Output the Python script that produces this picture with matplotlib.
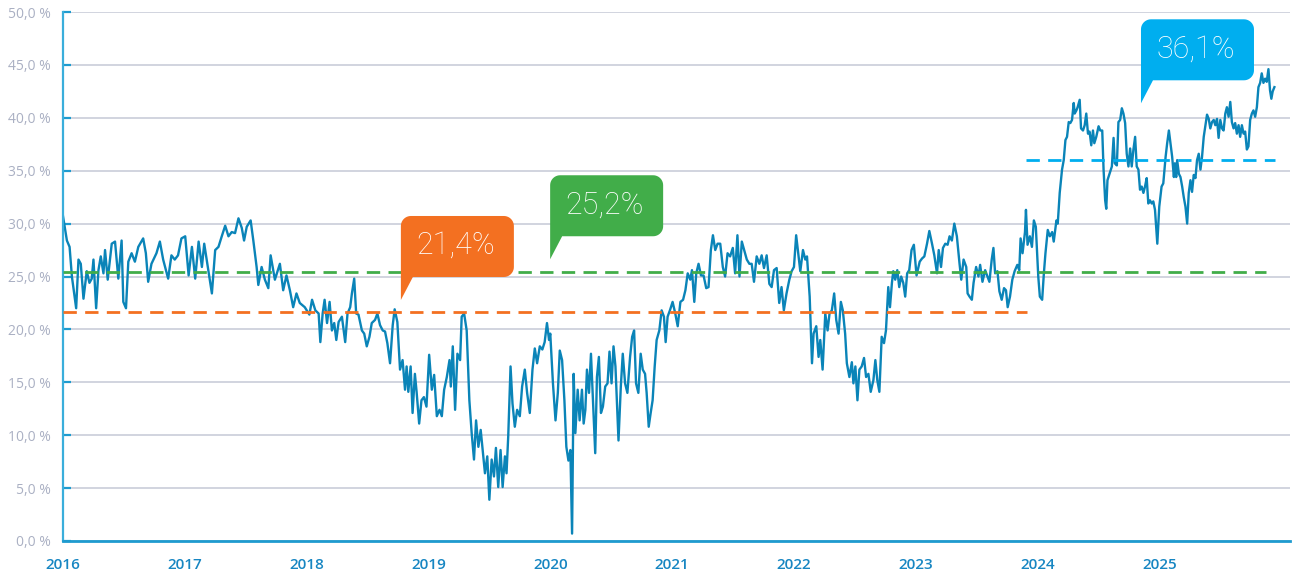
import matplotlib
matplotlib.use("Agg")
import matplotlib.pyplot as plt
from matplotlib.patches import Polygon
from matplotlib.transforms import IdentityTransform
import numpy as np

# ---------------- data ----------------
years = [
    2016.000, 2016.032, 2016.054, 2016.073, 2016.108, 2016.127, 2016.146, 2016.168, 2016.195, 2016.217,
    2016.236, 2016.250, 2016.272, 2016.291, 2016.310, 2016.332, 2016.345, 2016.367, 2016.400, 2016.427,
    2016.454, 2016.481, 2016.495, 2016.517, 2016.536, 2016.563, 2016.590, 2016.618, 2016.658, 2016.680,
    2016.699, 2016.726, 2016.767, 2016.795, 2016.822, 2016.863, 2016.890, 2016.917, 2016.944, 2016.972,
    2017.003, 2017.031, 2017.058, 2017.085, 2017.113, 2017.140, 2017.159, 2017.194, 2017.222, 2017.249,
    2017.276, 2017.303, 2017.331, 2017.358, 2017.385, 2017.412, 2017.440, 2017.467, 2017.486, 2017.508,
    2017.540, 2017.562, 2017.589, 2017.603, 2017.630, 2017.657, 2017.685, 2017.704, 2017.739, 2017.780,
    2017.807, 2017.834, 2017.862, 2017.889, 2017.916, 2017.943, 2017.984, 2018.022,
    2018.044, 2018.071, 2018.098, 2018.112, 2018.131, 2018.147, 2018.167, 2018.188, 2018.207, 2018.226,
    2018.243, 2018.262, 2018.289, 2018.316, 2018.335, 2018.357, 2018.371, 2018.390, 2018.406, 2018.425,
    2018.453, 2018.472, 2018.493, 2018.515, 2018.534, 2018.561, 2018.580, 2018.602, 2018.624, 2018.643,
    2018.662, 2018.684, 2018.706, 2018.722, 2018.744, 2018.766, 2018.787, 2018.807, 2018.820, 2018.834,
    2018.853, 2018.869, 2018.888, 2018.902, 2018.923, 2018.942, 2018.962, 2018.983, 2019.005, 2019.027,
    2019.046, 2019.068, 2019.090, 2019.109, 2019.128, 2019.150, 2019.172, 2019.183, 2019.199, 2019.218,
    2019.237, 2019.259, 2019.272, 2019.292, 2019.313, 2019.335, 2019.354, 2019.373, 2019.390, 2019.409,
    2019.428, 2019.444, 2019.463, 2019.482, 2019.499, 2019.518, 2019.537, 2019.553, 2019.572, 2019.591,
    2019.608, 2019.627, 2019.640, 2019.654, 2019.673, 2019.689, 2019.708, 2019.727, 2019.749, 2019.768,
    2019.790, 2019.809, 2019.831, 2019.853, 2019.872, 2019.891, 2019.913, 2019.934, 2019.953, 2019.972,
    2019.989,
    2019.999, 2020.021, 2020.042, 2020.061, 2020.077, 2020.096, 2020.115, 2020.131, 2020.148, 2020.164,
    2020.178, 2020.191, 2020.205, 2020.224, 2020.240, 2020.259, 2020.273, 2020.287, 2020.300, 2020.317,
    2020.333, 2020.349, 2020.368, 2020.382, 2020.398, 2020.415, 2020.431, 2020.450, 2020.469, 2020.485,
    2020.502, 2020.518, 2020.534, 2020.559, 2020.578, 2020.594, 2020.613, 2020.632, 2020.654, 2020.671,
    2020.687, 2020.703, 2020.722, 2020.741, 2020.758, 2020.777, 2020.790, 2020.807, 2020.823, 2020.839,
    2020.856, 2020.872, 2020.894, 2020.913, 2020.932, 2020.946, 2020.962, 2020.981, 2021.003, 2021.025,
    2021.045, 2021.067, 2021.089, 2021.108, 2021.127, 2021.148, 2021.162, 2021.181, 2021.197, 2021.216,
    2021.236, 2021.257, 2021.279, 2021.298, 2021.317, 2021.334, 2021.353, 2021.372, 2021.394, 2021.415,
    2021.434, 2021.454, 2021.475, 2021.497, 2021.516, 2021.535, 2021.552, 2021.571, 2021.590, 2021.612,
    2021.633, 2021.652, 2021.671, 2021.693, 2021.715, 2021.734, 2021.753, 2021.775, 2021.797, 2021.816,
    2021.835, 2021.857, 2021.878, 2021.897, 2021.916, 2021.938, 2021.961, 2021.980, 2021.999, 2022.017,
    2022.051, 2022.073, 2022.092, 2022.106, 2022.128, 2022.147, 2022.160, 2022.182, 2022.201, 2022.215,
    2022.234, 2022.256, 2022.275, 2022.291, 2022.310, 2022.329, 2022.346, 2022.365, 2022.384, 2022.400,
    2022.419, 2022.433, 2022.454, 2022.474, 2022.487, 2022.503, 2022.520, 2022.536, 2022.555, 2022.574,
    2022.591, 2022.610, 2022.629, 2022.651, 2022.667, 2022.683, 2022.700, 2022.719, 2022.738, 2022.754,
    2022.773, 2022.787, 2022.803, 2022.814, 2022.830, 2022.847, 2022.863, 2022.879, 2022.896, 2022.912,
    2022.928, 2022.945, 2022.964, 2022.983, 2023.005, 2023.031, 2023.050, 2023.069, 2023.091, 2023.110,
    2023.132, 2023.151, 2023.173, 2023.187, 2023.206, 2023.222, 2023.241, 2023.260, 2023.276, 2023.295,
    2023.315, 2023.336, 2023.358, 2023.372, 2023.391, 2023.413, 2023.424, 2023.440, 2023.459, 2023.473,
    2023.494, 2023.513, 2023.527, 2023.546, 2023.568, 2023.587, 2023.603, 2023.622, 2023.636, 2023.650,
    2023.669, 2023.685, 2023.704, 2023.723, 2023.739, 2023.753, 2023.772, 2023.791, 2023.810, 2023.832,
    2023.848, 2023.859, 2023.875, 2023.895, 2023.903, 2023.916, 2023.935, 2023.952, 2023.968, 2023.984,
    2024.004, 2024.017,
    2024.036, 2024.050, 2024.063, 2024.082, 2024.099, 2024.118, 2024.131, 2024.153, 2024.164, 2024.180,
    2024.199, 2024.213, 2024.227, 2024.240, 2024.254, 2024.267, 2024.281, 2024.295, 2024.303, 2024.317,
    2024.327, 2024.344, 2024.355, 2024.371, 2024.385, 2024.398, 2024.412, 2024.425, 2024.439, 2024.453,
    2024.464, 2024.480, 2024.499, 2024.513, 2024.529, 2024.540, 2024.553, 2024.562, 2024.572, 2024.589,
    2024.608, 2024.622, 2024.632, 2024.649, 2024.662, 2024.676, 2024.690, 2024.703, 2024.717, 2024.730,
    2024.744, 2024.758, 2024.771, 2024.785, 2024.799, 2024.812, 2024.826, 2024.839, 2024.853, 2024.867,
    2024.880, 2024.894, 2024.907, 2024.921, 2024.935, 2024.948, 2024.962, 2024.981, 2024.997, 2025.016,
    2025.030, 2025.049, 2025.062, 2025.076, 2025.089, 2025.103, 2025.117, 2025.125, 2025.136, 2025.144,
    2025.158, 2025.171, 2025.185, 2025.198, 2025.212, 2025.226, 2025.239, 2025.253, 2025.266, 2025.280,
    2025.294, 2025.307, 2025.321, 2025.335, 2025.348, 2025.362, 2025.375, 2025.389, 2025.403, 2025.416,
    2025.430, 2025.444, 2025.457, 2025.471, 2025.484, 2025.498, 2025.512, 2025.525, 2025.539, 2025.552,
    2025.566, 2025.580, 2025.593, 2025.607, 2025.620, 2025.634, 2025.648, 2025.661, 2025.675, 2025.689,
    2025.702, 2025.716, 2025.729, 2025.743, 2025.757, 2025.770, 2025.784, 2025.798, 2025.811, 2025.825,
    2025.838, 2025.852, 2025.866, 2025.879, 2025.893, 2025.906, 2025.917, 2025.928, 2025.942,
]

values = [
    30.7, 28.4, 27.8, 25.0, 22.0, 26.6, 26.2, 22.9, 25.5, 24.4,
    24.8, 26.6, 22.0, 25.6, 26.9, 25.3, 27.5, 24.7, 28.1, 28.3,
    24.8, 28.4, 22.6, 22.0, 26.4, 27.2, 26.4, 27.8, 28.6, 27.2,
    24.5, 26.2, 27.2, 28.3, 26.6, 24.8, 27.0, 26.6, 27.0, 28.6,
    28.8, 25.1, 27.8, 24.8, 28.3, 25.9, 28.1, 25.5, 23.4, 27.5,
    27.8, 28.8, 29.8, 28.8, 29.2, 29.1, 30.5, 29.6, 28.4, 29.7,
    30.3, 28.4, 25.9, 24.2, 25.9, 24.7, 23.9, 27.0, 24.7, 26.2,
    23.7, 25.1, 23.7, 22.1, 23.4, 22.5, 22.1, 21.4,
    22.8, 21.8, 21.5, 18.8, 21.5, 22.8, 20.6, 22.6, 19.9, 20.6,
    19.0, 20.7, 21.2, 18.8, 21.5, 22.1, 23.4, 24.8, 21.5, 21.4,
    19.9, 19.6, 18.4, 19.3, 20.6, 20.9, 21.5, 20.4, 19.9, 19.8,
    18.7, 16.8, 20.4, 21.9, 20.7, 16.2, 17.1, 14.3, 16.5, 14.1,
    16.5, 12.1, 15.8, 14.1, 11.1, 13.3, 13.6, 12.7, 17.6, 14.3,
    15.7, 11.8, 12.4, 11.8, 14.3, 15.5, 17.1, 14.6, 18.4, 12.4,
    17.7, 17.1, 21.2, 21.5, 19.9, 13.3, 10.2, 7.7, 11.4, 8.9,
    10.5, 8.6, 6.4, 8.0, 3.9, 7.7, 6.1, 8.8, 5.1, 8.6,
    5.1, 8.0, 6.4, 9.9, 16.5, 13.0, 10.8, 12.4, 11.8, 14.6,
    16.2, 14.0, 12.1, 16.2, 18.2, 16.8, 18.4, 18.1, 18.8, 20.6,
    19.0,
    19.6, 14.9, 11.4, 14.0, 18.0, 17.1, 13.3, 8.9, 7.6, 8.6,
    0.7, 15.8, 10.2, 14.3, 11.4, 14.3, 11.1, 12.4, 16.2, 14.0,
    17.7, 13.3, 8.3, 15.5, 17.4, 12.1, 12.7, 14.6, 14.9, 17.9,
    14.9, 18.4, 16.5, 9.5, 14.6, 17.7, 14.9, 14.0, 17.4, 19.3,
    19.9, 14.9, 14.0, 17.7, 16.2, 15.8, 14.0, 10.8, 12.1, 13.3,
    16.5, 19.0, 19.9, 21.8, 21.2, 18.8, 21.2, 21.8, 22.6, 21.5,
    20.3, 22.6, 22.8, 23.7, 25.3, 24.7, 25.6, 22.6, 25.3, 26.2,
    25.1, 25.1, 23.9, 24.0, 27.5, 28.9, 27.5, 28.1, 28.1, 25.9,
    25.0, 27.2, 26.9, 27.7, 25.3, 28.9, 25.0, 28.3, 27.5, 26.6,
    26.2, 26.2, 24.5, 26.9, 26.2, 27.0, 25.8, 27.0, 24.3, 24.0,
    25.6, 25.8, 22.5, 24.0, 21.8, 23.4, 24.7, 25.5, 25.9, 28.9,
    25.5, 27.5, 26.6, 26.9, 23.1, 16.8, 19.6, 20.3, 17.4, 19.0,
    16.2, 21.5, 19.9, 21.5, 21.8, 23.4, 20.9, 19.6, 22.6, 21.8,
    19.6, 16.8, 15.5, 16.9, 14.9, 16.5, 13.3, 16.2, 16.5, 17.3,
    15.5, 15.8, 14.1, 15.2, 17.1, 15.2, 14.1, 19.3, 18.7, 19.9,
    24.0, 22.1, 24.4, 25.5, 24.7, 25.6, 24.0, 25.0, 24.4, 23.1,
    25.3, 25.6, 27.5, 28.0, 25.1, 26.4, 26.7, 26.9, 28.1, 29.3,
    28.1, 27.0, 25.3, 27.5, 25.9, 27.7, 28.1, 28.0, 28.8, 28.4,
    30.0, 28.8, 26.2, 24.7, 26.6, 25.9, 23.4, 23.1, 22.8, 24.4,
    25.9, 25.0, 26.1, 24.5, 25.6, 25.0, 24.5, 26.6, 27.7, 25.3,
    25.5, 23.6, 22.8, 23.9, 23.7, 22.1, 23.1, 24.7, 25.5, 26.1,
    25.6, 28.6, 27.2, 29.2, 31.3, 28.0, 28.8, 27.8, 30.3, 29.7,
    25.0, 23.1,
    22.8, 25.3, 27.2, 29.4, 28.8, 29.2, 28.3, 30.3, 30.0, 32.9,
    35.1, 36.0, 37.9, 38.2, 39.6, 39.5, 39.8, 41.4, 40.4, 40.7,
    41.0, 41.7, 39.0, 38.8, 39.3, 40.4, 38.5, 38.7, 37.4, 38.8,
    37.6, 38.2, 39.2, 38.8, 38.8, 35.1, 32.2, 31.4, 34.1, 34.7,
    35.4, 38.1, 35.7, 35.5, 39.6, 39.8, 40.9, 40.4, 39.5, 36.6,
    35.4, 37.1, 35.4, 37.0, 38.2, 35.4, 35.1, 33.2, 33.5, 32.9,
    33.5, 34.3, 31.9, 32.2, 31.9, 32.1, 31.3, 28.1, 31.6, 33.5,
    33.8, 36.3, 37.6, 38.8, 37.6, 36.3, 34.4, 35.7, 34.4, 36.0,
    34.7, 34.4, 33.5, 32.5, 31.6, 30.0, 32.9, 34.1, 33.0, 34.6,
    34.3, 36.0, 36.6, 35.1, 36.3, 38.2, 39.2, 40.3, 39.9, 39.0,
    39.6, 39.8, 39.3, 39.9, 38.1, 39.8, 39.0, 38.8, 40.4, 41.0,
    40.1, 41.5, 39.6, 39.0, 39.5, 38.5, 39.3, 38.2, 39.3, 38.5,
    38.7, 37.0, 37.3, 39.8, 40.4, 40.7, 40.1, 41.0, 42.9, 43.3,
    44.2, 43.3, 43.7, 43.4, 44.6, 42.6, 41.8, 42.5, 42.9,
]

# average levels (dashed lines): value, start year, end year
avg_levels = [21.6, 25.4, 36.0]
avg_starts = [2016.0, 2016.0, 2023.90]
avg_ends = [2023.915, 2025.877, 2025.943]
avg_labels = ["21,4%", "25,2%", "36,1%"]
avg_colors = ["#f37021", "#41ad49", "#00aeef"]
# callout tail tips (data coordinates)
tip_x = [2018.773, 2019.998, 2024.847]
tip_y = [22.78, 26.63, 41.37]

xtick_years = list(range(2016, 2026))
ytick_vals = [0, 5, 10, 15, 20, 25, 30, 35, 40, 45, 50]

# ---------------- figure ----------------
W, H = 1293, 575
fig = plt.figure(figsize=(W / 100, H / 100), dpi=100)
ax = fig.add_axes([63 / W, 34 / H, (1290 - 63) / W, (541 - 12) / H])

line_color = "#0a84b8"
axis_color = "#1f9bcf"
grid_color = "#c5c9d6"

ax.set_xlim(2016.0, 2026.07)
ax.set_ylim(0, 50)

ax.set_yticks(ytick_vals)
ax.set_yticklabels([f"{v:.1f}".replace(".", ",") + " %" for v in ytick_vals],
                   fontfamily="Open Sans", fontsize=10, color="#aab0c3")
ax.set_xticks(xtick_years)
ax.set_xticklabels([str(y) for y in xtick_years],
                   fontfamily="Open Sans", fontsize=11, color="#1786c2", fontweight="semibold")

ax.yaxis.grid(True, color=grid_color, linewidth=1.1, zorder=0)
ax.set_axisbelow(True)
ax.tick_params(axis="y", direction="in", length=6, width=1.6, color=axis_color, pad=9)
ax.tick_params(axis="x", length=0, pad=12)

for s in ["top", "right"]:
    ax.spines[s].set_visible(False)
ax.spines["left"].set_color("#3aaedb")
ax.spines["left"].set_linewidth(1.6)
ax.spines["bottom"].set_color(axis_color)
ax.spines["bottom"].set_linewidth(2.0)

ax.plot(years, values, color=line_color, linewidth=1.7, zorder=2,
        solid_joinstyle="round")

for lvl, x0, x1, c in zip(avg_levels, avg_starts, avg_ends, avg_colors):
    ax.plot([x0, x1], [lvl, lvl], color=c, linewidth=2.0, dashes=(4.8, 3.0), zorder=3)


def arc(cx, cy, r, a0, a1, n=12):
    t = np.radians(np.linspace(a0, a1, n))
    return list(zip(cx + r * np.cos(t), cy + r * np.sin(t)))


def bubble(xd, yd, color, text, w=113, h=61, tail_h=23, tail_w=12, r=10):
    tx, ty = ax.transData.transform((xd, yd))
    x0, x1 = tx, tx + w
    yb = ty + tail_h
    yt = yb + h
    pts = [(x0, ty), (x0, yt - r)]
    pts += arc(x0 + r, yt - r, r, 180, 90)
    pts += arc(x1 - r, yt - r, r, 90, 0)
    pts += arc(x1 - r, yb + r, r, 0, -90)
    pts += [(x0 + tail_w, yb)]
    patch = Polygon(pts, closed=True, facecolor=color, edgecolor="none",
                    transform=IdentityTransform(), zorder=5, clip_on=False)
    ax.add_patch(patch)
    ax.text((x0 + x1) / 2 - 2, (yb + yt) / 2 + 1, text, transform=IdentityTransform(),
            ha="center", va="center", color="white", fontsize=22,
            fontfamily="Roboto", fontweight="light", zorder=6)


for xd, yd, c, lab in zip(tip_x, tip_y, avg_colors, avg_labels):
    bubble(xd, yd, c, lab)

fig.savefig("out.png", dpi=100)
